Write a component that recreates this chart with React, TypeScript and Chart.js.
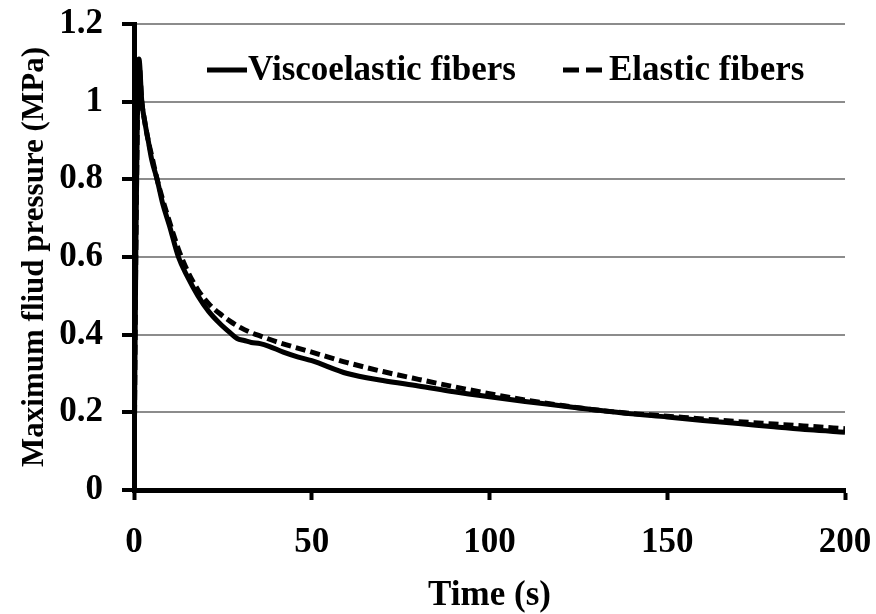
import React, { useEffect, useRef } from "react";
import { Chart, registerables } from "chart.js";

Chart.register(...registerables);

const viscoTime = [0, 0.5, 1.4, 2.2, 3, 4, 5, 6.5, 8, 10, 12.5, 15, 18, 21, 24, 27, 29, 31, 33, 35.5, 38, 42, 46, 50, 60, 70, 80, 90, 100, 110, 120, 130, 140, 150, 160, 170, 180, 190, 200];
const viscoPressure = [0, 0.6, 1.11, 1.0, 0.95, 0.9, 0.85, 0.8, 0.74, 0.68, 0.6, 0.55, 0.5, 0.46, 0.43, 0.405, 0.39, 0.385, 0.38, 0.377, 0.37, 0.355, 0.343, 0.333, 0.3, 0.282, 0.268, 0.253, 0.24, 0.228, 0.217, 0.206, 0.196, 0.188, 0.179, 0.171, 0.163, 0.155, 0.149];

const elasticTime = [0, 0.5, 1.4, 2.2, 3, 4, 5, 6.5, 8, 10, 12.5, 15, 18, 21, 24, 27, 30, 33, 36, 40, 45, 50, 60, 70, 80, 90, 100, 110, 120, 130, 140, 150, 160, 170, 180, 190, 200];
const elasticPressure = [0, 0.6, 1.1, 1.0, 0.95, 0.9, 0.86, 0.8, 0.75, 0.69, 0.62, 0.565, 0.515, 0.48, 0.455, 0.435, 0.418, 0.405, 0.395, 0.382, 0.368, 0.355, 0.328, 0.305, 0.285, 0.266, 0.248, 0.232, 0.218, 0.206, 0.197, 0.19, 0.183, 0.176, 0.17, 0.164, 0.158];

const seriesLabels = ["Viscoelastic fibers", "Elastic fibers"];
const xTitle = "Time (s)";
const yTitle = "Maximum fliud pressure (MPa)";

const FONT = "'Liberation Serif', 'Times New Roman', serif";

const legendPlugin = {
  id: "customLegend",
  afterDraw(chart: any) {
    const ctx = chart.ctx;
    ctx.save();
    ctx.font = `bold 35px ${FONT}`;
    ctx.fillStyle = "#000";
    ctx.strokeStyle = "#000";
    ctx.lineWidth = 5;
    ctx.textBaseline = "middle";
    const y = 70;
    ctx.beginPath();
    ctx.moveTo(207, y);
    ctx.lineTo(247, y);
    ctx.stroke();
    ctx.fillText(seriesLabels[0], 248, y + 1);
    ctx.beginPath();
    ctx.setLineDash([16, 7]);
    ctx.moveTo(563, y);
    ctx.lineTo(602, y);
    ctx.stroke();
    ctx.setLineDash([]);
    ctx.fillText(seriesLabels[1], 609, y + 1);
    ctx.restore();
  },
};

export default function App() {
  const ref = useRef<HTMLCanvasElement>(null);
  useEffect(() => {
    document.body.style.margin = "0";
    const c = new Chart(ref.current!, {
      type: "line",
      data: {
        datasets: [
          {
            label: seriesLabels[0],
            data: viscoTime.map((t, i) => ({ x: t, y: viscoPressure[i] })),
            borderColor: "#000",
            borderWidth: 5,
            pointRadius: 0,
            cubicInterpolationMode: "monotone",
          },
          {
            label: seriesLabels[1],
            data: elasticTime.map((t, i) => ({ x: t, y: elasticPressure[i] })),
            borderColor: "#000",
            borderWidth: 5,
            borderDash: [10, 5],
            pointRadius: 0,
            cubicInterpolationMode: "monotone",
          },
        ],
      },
      plugins: [legendPlugin],
      options: {
        animation: false,
        responsive: false,
        layout: { padding: { top: 24, right: 31, left: 0, bottom: 0 } },
        plugins: { legend: { display: false }, tooltip: { enabled: false } },
        scales: {
          x: {
            type: "linear",
            min: 0,
            max: 200,
            afterFit: (s: any) => { s.height = 124; s.paddingLeft = 0; s.paddingRight = 0; },
            ticks: { stepSize: 50, color: "#000", padding: 22, maxRotation: 0, font: { family: FONT, size: 35, weight: "bold" } },
            grid: { drawOnChartArea: false, drawTicks: true, tickLength: 10, tickColor: "#000", tickWidth: 4 },
            border: { color: "#000", width: 5 },
            title: { display: true, text: xTitle, color: "#000", padding: { top: 0, bottom: 1 }, font: { family: FONT, size: 35, weight: "bold", lineHeight: 1 } },
          },
          y: {
            min: 0,
            max: 1.2,
            afterFit: (s: any) => { s.width = 134; s.paddingTop = 0; s.paddingBottom = 0; },
            ticks: { stepSize: 0.2, color: "#000", padding: 19, font: { family: FONT, size: 35, weight: "bold" }, callback: (v: any) => String(Math.round(Number(v) * 10) / 10) },
            grid: { color: "#8c8c8c", lineWidth: 2, drawTicks: true, tickLength: 12, tickColor: "#000", tickWidth: 4 },
            border: { color: "#000", width: 5 },
            title: { display: true, text: yTitle, color: "#000", padding: { top: 19, bottom: 0 }, font: { family: FONT, size: 31, weight: "bold", lineHeight: 1 } },
          },
        },
      },
    });
    return () => c.destroy();
  }, []);
  return <canvas ref={ref} width={876} height={614} style={{ display: "block" }} />;
}
